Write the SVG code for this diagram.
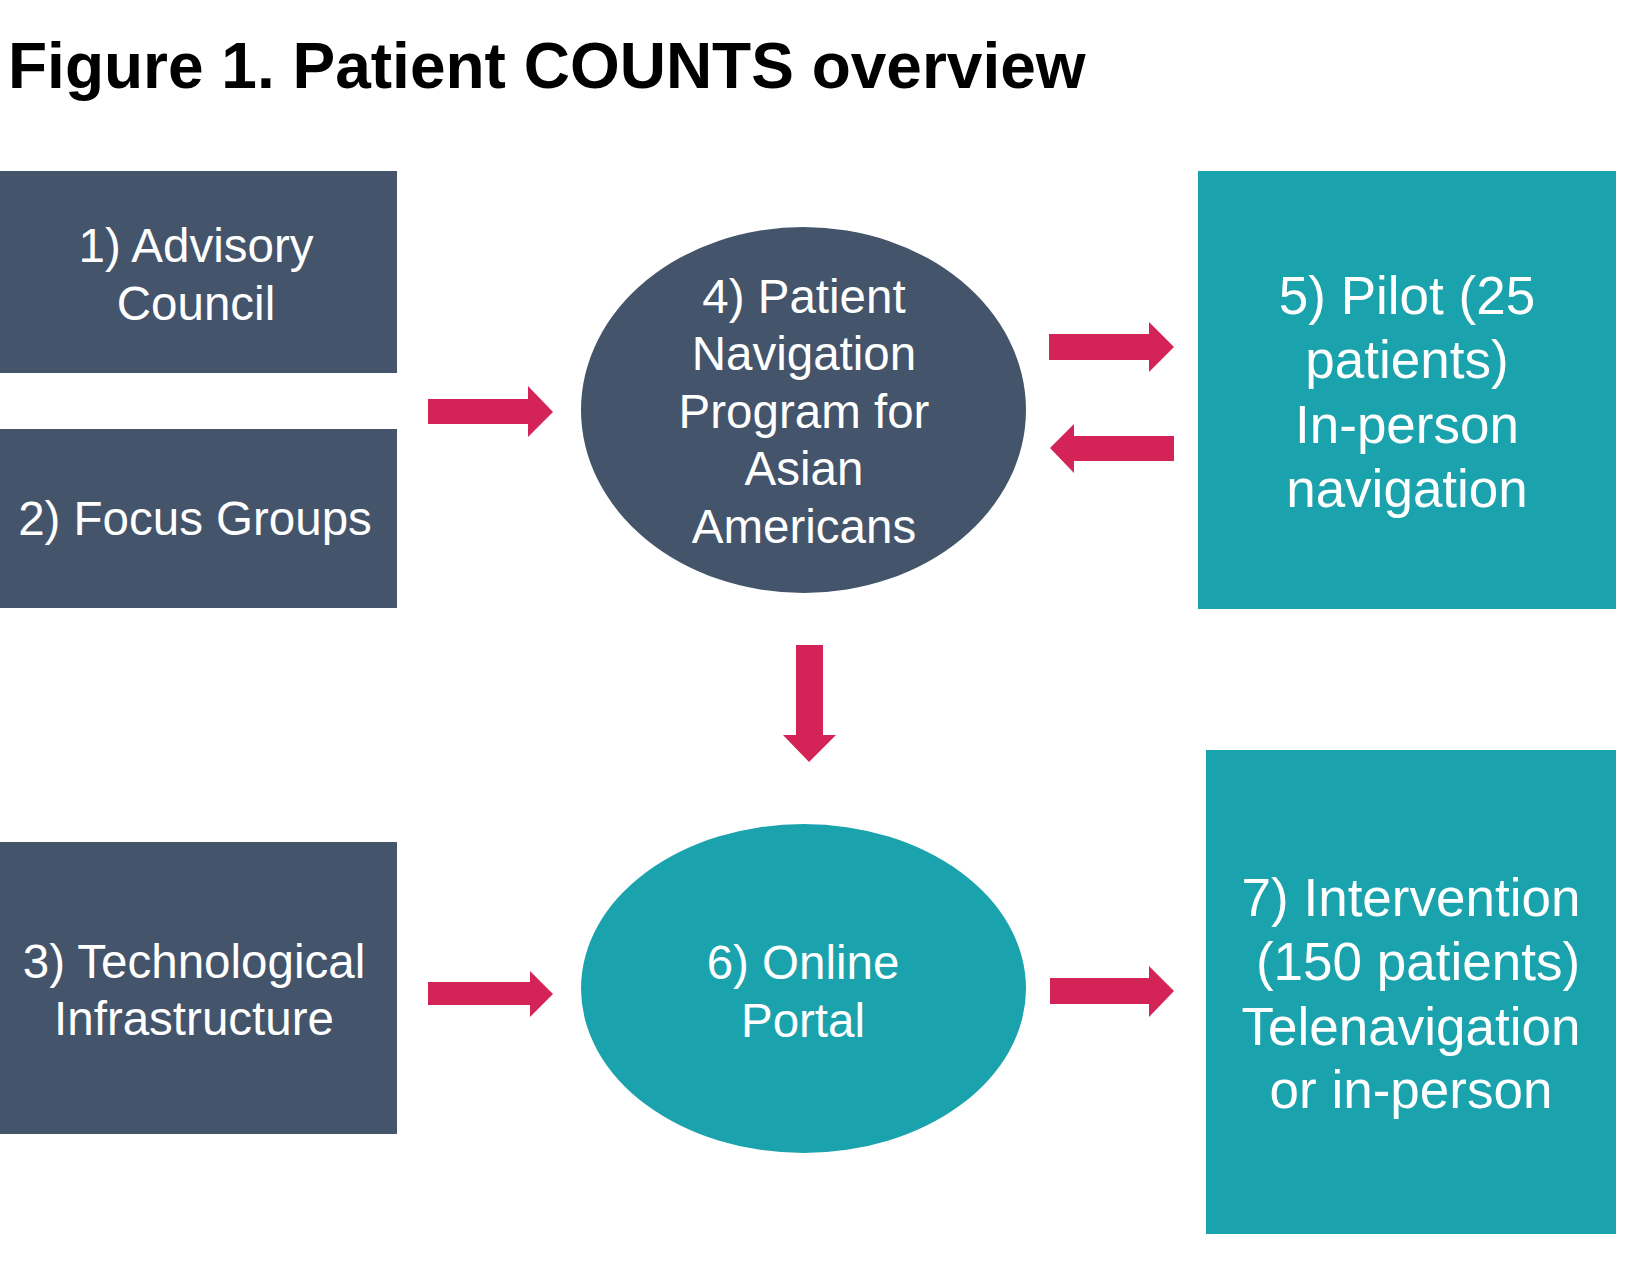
<svg xmlns="http://www.w3.org/2000/svg" width="1625" height="1268" viewBox="0 0 1625 1268">
  <style>
    .title { font-family: "Liberation Sans", Arial, sans-serif; font-weight: bold; font-size: 64px; fill: #000000; }
    .dark { fill: #44546A; }
    .teal { fill: #1AA3AD; }
    .arrow { fill: #D32357; }
    .lbl { font-family: "Liberation Sans", Arial, sans-serif; fill: #FFFFFF; text-anchor: middle; }
    .s47 { font-size: 47.5px; }
    .s53 { font-size: 53px; }
  </style>

  <rect width="1625" height="1268" fill="#FFFFFF"/>

  <text class="title" x="8" y="88">Figure 1. Patient COUNTS overview</text>

  <g id="node-advisory-council">
    <rect class="dark" x="0" y="171" width="397" height="202"/>
    <text class="lbl s47" x="196" y="262">1) Advisory</text>
    <text class="lbl s47" x="196" y="320">Council</text>
  </g>

  <g id="node-focus-groups">
    <rect class="dark" x="0" y="429" width="397" height="179"/>
    <text class="lbl s47" x="195" y="535">2) Focus Groups</text>
  </g>

  <g id="node-tech-infrastructure">
    <rect class="dark" x="0" y="842" width="397" height="292"/>
    <text class="lbl s47" x="194" y="978">3) Technological</text>
    <text class="lbl s47" x="194" y="1035">Infrastructure</text>
  </g>

  <g id="node-navigation-program">
    <ellipse class="dark" cx="803.5" cy="410" rx="222.5" ry="183"/>
    <text class="lbl s47" x="804" y="313">4) Patient</text>
    <text class="lbl s47" x="804" y="370">Navigation</text>
    <text class="lbl s47" x="804" y="428">Program for</text>
    <text class="lbl s47" x="804" y="485">Asian</text>
    <text class="lbl s47" x="804" y="543">Americans</text>
  </g>

  <g id="node-pilot">
    <rect class="teal" x="1198" y="171" width="418" height="438"/>
    <text class="lbl s53" x="1407" y="314">5) Pilot (25</text>
    <text class="lbl s53" x="1407" y="378">patients)</text>
    <text class="lbl s53" x="1407" y="443">In-person</text>
    <text class="lbl s53" x="1407" y="507">navigation</text>
  </g>

  <g id="node-online-portal">
    <ellipse class="teal" cx="803.5" cy="988.5" rx="222.5" ry="164.5"/>
    <text class="lbl s47" x="803" y="979">6) Online</text>
    <text class="lbl s47" x="803" y="1037">Portal</text>
  </g>

  <g id="node-intervention">
    <rect class="teal" x="1206" y="750" width="410" height="484"/>
    <text class="lbl s53" x="1411" y="916">7) Intervention</text>
    <text class="lbl s53" x="1418" y="980">(150 patients)</text>
    <text class="lbl s53" x="1411" y="1045">Telenavigation</text>
    <text class="lbl s53" x="1411" y="1108">or in-person</text>
  </g>

  <g id="connectors">
    <!-- 1,2 -> 4 -->
    <polygon class="arrow" points="428,399 528,399 528,386 553,412 528,437 528,424 428,424"/>
    <!-- 4 -> 5 -->
    <polygon class="arrow" points="1049,334 1149,334 1149,322 1174,347 1149,372 1149,360 1049,360"/>
    <!-- 5 -> 4 -->
    <polygon class="arrow" points="1174,436 1074,436 1074,424 1050,448 1074,473 1074,461 1174,461"/>
    <!-- 4 -> 6 -->
    <polygon class="arrow" points="796,645 823,645 823,735 836,735 809,762 783,735 796,735"/>
    <!-- 3 -> 6 -->
    <polygon class="arrow" points="428,982 530,982 530,971 553,994 530,1017 530,1005 428,1005"/>
    <!-- 6 -> 7 -->
    <polygon class="arrow" points="1050,978 1149,978 1149,966 1174,991 1149,1017 1149,1004 1050,1004"/>
  </g>
</svg>
